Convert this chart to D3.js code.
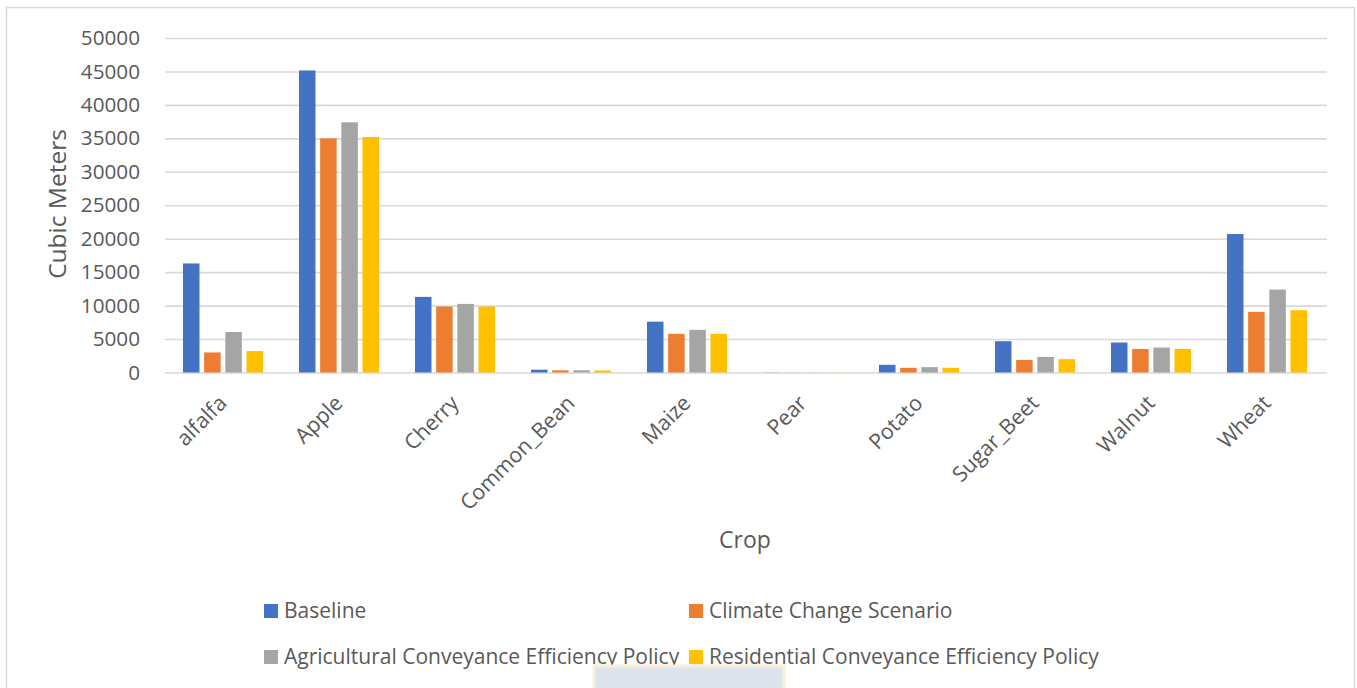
<!DOCTYPE html>
<html>
<head>
<meta charset="utf-8">
<script src="https://cdn.jsdelivr.net/npm/d3@7/dist/d3.min.js"></script>
<style>
  html, body { margin: 0; padding: 0; background: #ffffff; }
  svg { display: block; }
  text { font-family: "Open Sans", "Noto Sans", sans-serif; fill: #595959; }
</style>
</head>
<body>
<svg id="chart" width="1357" height="688"></svg>
<script>
// Crop water use by scenario (cubic meters)
const crops = ["alfalfa", "Apple", "Cherry", "Common_Bean", "Maize", "Pear", "Potato", "Sugar_Beet", "Walnut", "Wheat"];
const seriesNames = ["Baseline", "Climate Change Scenario", "Agricultural Conveyance Efficiency Policy", "Residential Conveyance Efficiency Policy"];
const baseline      = [16300, 45150, 11300, 420, 7600, 20, 1150, 4680, 4480, 20700];
const climateChange = [3000, 35000, 9850, 330, 5780, 15, 700, 1880, 3520, 9060];
const agricultural  = [6050, 37400, 10250, 330, 6370, 15, 800, 2330, 3730, 12400];
const residential   = [3200, 35200, 9850, 300, 5780, 15, 700, 1990, 3520, 9310];
const yTicks = [0, 5000, 10000, 15000, 20000, 25000, 30000, 35000, 40000, 45000, 50000];
const colors = ["#4472C4", "#ED7D31", "#A5A5A5", "#FFC000"];

const series = [baseline, climateChange, agricultural, residential];
const rows = crops.map((c, i) => ({ crop: c, values: series.map(s => s[i]) }));

const svg = d3.select("#chart");

// outer frame
svg.append("rect")
  .attr("x", 6.5).attr("y", 7.5)
  .attr("width", 1348).attr("height", 700)
  .attr("fill", "none").attr("stroke", "#d9d9d9").attr("stroke-width", 1.5);

const plot = { left: 165, right: 1325, top: 38, bottom: 372.5 };

const x0 = d3.scaleBand().domain(crops)
  .range([plot.left, plot.right]).paddingInner(0.31).paddingOuter(0.155);
const x1 = d3.scaleBand().domain(d3.range(series.length))
  .range([0, x0.bandwidth()]).paddingInner(0.22).paddingOuter(0);
const y = d3.scaleLinear().domain([0, 50000]).range([plot.bottom, plot.top]);

// gridlines and value ticks
const yAxis = d3.axisLeft(y).tickValues(yTicks)
  .tickSize(-(plot.right - plot.left + 2)).tickPadding(24).tickFormat(d3.format("d"));
const gy = svg.append("g").attr("transform", `translate(${plot.left},0)`).call(yAxis);
gy.select(".domain").remove();
gy.selectAll(".tick line").attr("stroke", "#d9d9d9").attr("stroke-width", 1.6);
gy.selectAll(".tick text").attr("font-size", 20.7).style("fill", "#595959")
  .attr("x", 140 - plot.left);

// bars
const groups = svg.append("g").selectAll("g").data(rows).join("g")
  .attr("transform", d => `translate(${x0(d.crop)},0)`);
groups.selectAll("rect").data(d => d.values.map((v, k) => ({ v, k }))).join("rect")
  .attr("x", d => x1(d.k))
  .attr("width", x1.bandwidth())
  .attr("y", d => y(d.v))
  .attr("height", d => y(0) - y(d.v))
  .attr("fill", d => colors[d.k]);

// category axis labels
const xAxis = d3.axisBottom(x0).tickSize(0).tickPadding(0);
const gx = svg.append("g").attr("transform", `translate(0,${plot.bottom})`).call(xAxis);
gx.select(".domain").remove();
gx.selectAll(".tick text")
  .attr("font-size", 21.3).style("fill", "#595959")
  .attr("text-anchor", "end")
  .attr("dy", 0)
  .attr("transform", "translate(5,32) rotate(-45)");

// axis titles
svg.append("text")
  .attr("transform", "translate(66,204) rotate(-90)")
  .attr("text-anchor", "middle").attr("font-size", 24.5)
  .text("Cubic Meters");
svg.append("text")
  .attr("x", 745).attr("y", 548)
  .attr("text-anchor", "middle").attr("font-size", 23)
  .text("Crop");

// legend
const legendPos = [[264, 604], [689, 604], [264, 650], [689, 650]];
const lg = svg.append("g").selectAll("g").data(seriesNames).join("g")
  .attr("transform", (d, i) => `translate(${legendPos[i][0]},${legendPos[i][1]})`);
lg.append("rect").attr("width", 14).attr("height", 14)
  .attr("fill", (d, i) => colors[i]);
lg.append("text").attr("x", 20).attr("y", 14)
  .attr("font-size", 21).text(d => d);

// faint emblem at the bottom edge
svg.append("rect")
  .attr("x", 594).attr("y", 666).attr("width", 190).attr("height", 30)
  .attr("fill", "#dde3ea").attr("stroke", "#fbeedc").attr("stroke-width", 3);
</script>
</body>
</html>
